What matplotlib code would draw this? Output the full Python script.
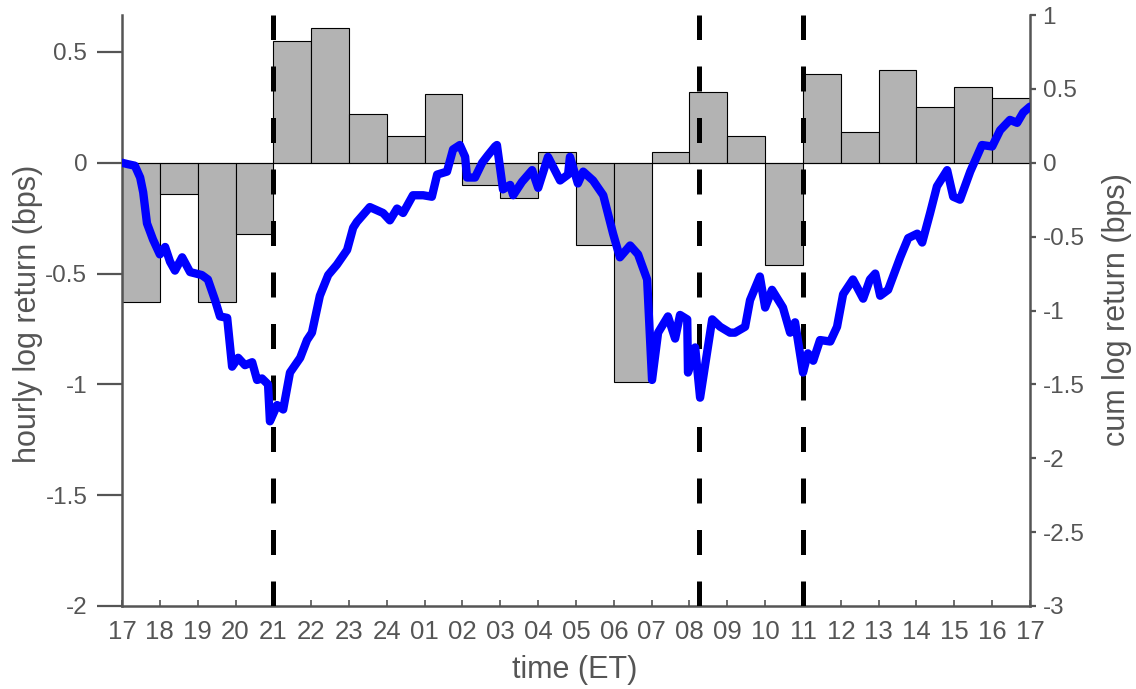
import matplotlib.pyplot as plt
import numpy as np

plt.switch_backend('Agg')
plt.rcParams['font.family'] = ['Liberation Sans', 'DejaVu Sans']
plt.rcParams['axes.unicode_minus'] = False

# hourly log returns (bps), one bar per hour starting at 17:00
hourly = [-0.63, -0.14, -0.63, -0.32, 0.55, 0.61, 0.22, 0.12, 0.31, -0.10,
          -0.16, 0.05, -0.37, -0.99, 0.05, 0.32, 0.12, -0.46, 0.40, 0.14,
          0.42, 0.25, 0.34, 0.29]
hour_labels = ['17', '18', '19', '20', '21', '22', '23', '24', '01', '02', '03',
               '04', '05', '06', '07', '08', '09', '10', '11', '12', '13', '14',
               '15', '16', '17']

# cumulative log return (bps), hours since 17:00
cum_t = [0, 0.16, 0.34, 0.48, 0.56, 0.66, 0.82, 1.00, 1.14, 1.27, 1.40, 1.59,
         1.80, 2.11, 2.27, 2.46, 2.59, 2.78, 2.91, 3.07, 3.25, 3.44, 3.57, 3.70,
         3.86, 3.91, 4.10, 4.26, 4.44, 4.71, 4.89, 5.02, 5.23, 5.45, 5.68, 5.95,
         6.11, 6.21, 6.55, 6.90, 7.08, 7.27, 7.43, 7.69, 7.96, 8.19, 8.33, 8.59,
         8.75, 8.93, 9.07, 9.12, 9.33, 9.52, 9.67, 9.86, 9.91, 10.07, 10.26,
         10.34, 10.57, 10.84, 11.00, 11.26, 11.58, 11.79, 11.84, 12.05, 12.19,
         12.45, 12.72, 12.98, 13.16, 13.43, 13.64, 13.88, 14.01, 14.17, 14.43,
         14.62, 14.75, 14.94, 14.96, 15.15, 15.28, 15.60, 15.81, 16.07, 16.20,
         16.47, 16.60, 16.86, 17.00, 17.18, 17.47, 17.66, 17.79, 18.00, 18.13,
         18.27, 18.45, 18.72, 18.90, 19.06, 19.32, 19.59, 19.77, 19.91, 20.04,
         20.25, 20.57, 20.78, 21.02, 21.15, 21.36, 21.54, 21.81, 21.97, 22.15,
         22.42, 22.73, 23.00, 23.21, 23.47, 23.66, 23.82, 24.00]
cum_v = [0.00, -0.01, -0.02, -0.10, -0.20, -0.41, -0.52, -0.62, -0.57, -0.67,
         -0.73, -0.64, -0.74, -0.76, -0.79, -0.93, -1.04, -1.05, -1.38, -1.32,
         -1.37, -1.35, -1.47, -1.46, -1.50, -1.75, -1.64, -1.67, -1.42, -1.32,
         -1.20, -1.15, -0.90, -0.76, -0.69, -0.59, -0.44, -0.40, -0.30, -0.34,
         -0.39, -0.31, -0.34, -0.22, -0.22, -0.23, -0.08, -0.06, 0.09, 0.12,
         0.04, -0.10, -0.10, 0.00, 0.05, 0.11, 0.12, -0.18, -0.15, -0.22, -0.13,
         -0.05, -0.17, 0.04, -0.12, -0.08, 0.04, -0.14, -0.06, -0.12, -0.22,
         -0.48, -0.64, -0.56, -0.62, -0.79, -1.47, -1.15, -1.04, -1.19, -1.03,
         -1.06, -1.42, -1.25, -1.59, -1.06, -1.11, -1.15, -1.15, -1.11, -0.93,
         -0.77, -0.98, -0.86, -0.98, -1.15, -1.08, -1.42, -1.29, -1.34, -1.20,
         -1.21, -1.11, -0.89, -0.79, -0.92, -0.79, -0.75, -0.90, -0.86, -0.64,
         -0.51, -0.48, -0.54, -0.34, -0.16, -0.05, -0.23, -0.25, -0.06, 0.12,
         0.11, 0.22, 0.29, 0.27, 0.34, 0.38]

# event times (hours since 17:00): 21:00, 08:15, 11:00
events = [4.0, 15.25, 18.0]

gray = '#555555'
fig = plt.figure(figsize=(11.36, 6.89), dpi=100)
ax = fig.add_axes([122 / 1136, 1 - 606 / 689, 908 / 1136, 591 / 689])
ax2 = ax.twinx()

ax.bar(np.arange(24), hourly, width=1.0, align='edge', color='#b3b3b3',
       edgecolor='black', linewidth=0.8, zorder=2)
ax.axhline(0, color='black', linewidth=0.8, zorder=2.5)
for ev in events:
    ax.plot([ev, ev], [-2, 2 / 3], color='black', linewidth=3.6,
            dashes=(5, 5.3), zorder=3)

ax2.plot(cum_t, cum_v, color='#0000ff', linewidth=6, solid_joinstyle='round',
         solid_capstyle='round', zorder=4)

ax.set_xlim(0, 24)
ax.set_ylim(-2, 2 / 3)
ax2.set_ylim(-3, 1)
ax.set_xticks(np.arange(25))
ax.set_xticklabels(hour_labels)
ax.set_yticks([-2, -1.5, -1, -0.5, 0, 0.5])
ax.set_yticklabels(['-2', '-1.5', '-1', '-0.5', '0', '0.5'])
ax2.set_yticks(np.arange(-3, 1.01, 0.5))
ax2.set_yticklabels(['-3', '-2.5', '-2', '-1.5', '-1', '-0.5', '0', '0.5', '1'])

for a in (ax, ax2):
    a.spines['top'].set_visible(False)
    for s in ('left', 'right', 'bottom'):
        a.spines[s].set_color(gray)
        a.spines[s].set_linewidth(1.8)
ax.spines['right'].set_visible(False)
ax2.spines['left'].set_visible(False)
ax2.spines['bottom'].set_visible(False)
ax.set_zorder(ax2.get_zorder() - 1)
ax2.patch.set_visible(False)

ax.tick_params(axis='x', direction='in', length=4, width=1.2, color=gray,
               labelcolor=gray, labelsize=18.5, pad=10)
ax.tick_params(axis='y', direction='out', length=18, width=1.6, color=gray,
               labelcolor=gray, labelsize=17.5, pad=7)
ax2.tick_params(axis='y', direction='out', length=4, width=1.6, color=gray,
                labelcolor=gray, labelsize=17.5, pad=5)

fig.text(28 / 1136, 1 - 314 / 689, 'hourly log return (bps)', rotation=90,
         ha='center', va='center', fontsize=22, color=gray)
fig.text(1117 / 1136, 1 - 310 / 689, 'cum log return (bps)', rotation=90,
         ha='center', va='center', fontsize=22, color=gray)
fig.text(575 / 1136, 1 - 670 / 689, 'time (ET)', ha='center', va='center',
         fontsize=22, color=gray)

fig.savefig('out.png', dpi=100)
plt.close(fig)
